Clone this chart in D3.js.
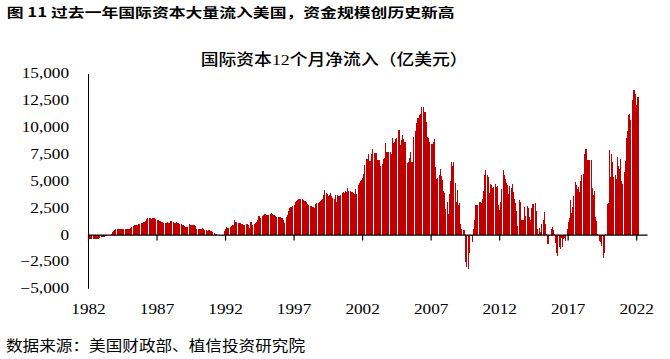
<!DOCTYPE html>
<html><head><meta charset="utf-8">
<script src="https://cdn.jsdelivr.net/npm/d3@7"></script>
<style>body{margin:0;background:#fff}svg{display:block}</style>
</head><body>
<svg id="c" width="670" height="359"></svg>
<script>
// Monthly 12-month net international capital inflows (100 million USD), Jan 1982 onward
const startYear = 1982;
const values1980s = [
  -400,-420,-400,-380,-400,-400,-380,-400,-390,-400,-300,-250,
  -250,-230,-200,-150,-100,-80,-50,-30,100,200,350,450,
  500,480,500,500,500,500,480,500,500,500,500,500,
  550,650,700,800,850,850,880,900,950,1000,1050,1100,
  1150,1200,1300,1450,1550,1500,1500,1450,1500,1550,1500,1450,
  1400,1350,1300,1250,1200,1150,1100,1100,1100,1150,1100,1100,
  1250,1250,1200,1100,1050,1200,1100,1050,1000,950,900,850,
  800,750,700,700,950,850,850,850,900,850,800,500
];
const values1990s = [
  500,500,500,500,650,500,400,400,350,450,400,350,
  300,200,150,100,30,0,0,0,-50,-100,-50,300,
  500,700,600,650,700,800,850,900,1350,1150,1150,1100,
  1100,1050,1000,950,900,850,950,1000,900,600,1150,1150,
  900,950,1050,1200,1400,1700,1750,1500,1700,1850,1950,1900,
  1850,1800,1850,1900,2050,1950,1850,1800,1700,1650,1650,1600,
  1600,1550,1500,1350,1050,1600,1800,2200,2450,2600,2600,2700,
  2800,3000,3100,3200,3300,3350,3350,3300,3250,3150,3100,3050,
  2850,2750,2650,2700,2600,2550,2500,2850,2900,2950,3000,3100,
  3200,3300,3700,4150,3900,3800,3600,3650,3850,3600,3400,3350
];
const values2000s = [
  3650,3050,3650,3550,3600,3650,3900,3950,3900,4050,4000,4300,
  4100,4050,4000,3950,3850,3800,4250,3800,4600,4800,5000,5100,
  5300,5650,6500,7000,7050,7500,6850,6850,7550,7950,7600,7600,
  7600,6950,6950,6950,6350,6600,7000,7100,8500,7700,7700,7700,
  7700,7500,8950,8500,8600,8900,8950,9700,9750,8350,8800,9250,
  8900,8650,8650,6700,6800,7100,7700,6750,6750,9100,9600,10400,
  10850,10850,11150,11250,11850,11850,11400,11400,10500,9100,9000,8650,
  8450,8450,8600,8900,6250,5200,5300,5550,6100,5500,5100,4050,
  3850,2400,3050,1950,3800,5000,6750,6350,6750,4850,3000,4150,
  2800,2900,950,500,420,420,-2550,-3000,-100,-3200,-1700,-100
];
const values2010s = [
  -650,480,1350,2750,2750,2750,3000,3000,2900,3350,4050,5550,
  6000,5550,5350,3900,4700,4600,4300,4400,4750,4450,4550,2750,
  2300,3000,4200,6000,5550,5200,4800,4600,3800,4500,4350,4700,
  3950,3300,2950,2200,800,3200,3050,1350,1350,1350,2550,1750,
  2650,2450,1650,1350,2450,2850,2850,2950,2200,550,50,600,
  250,1000,1350,2100,1000,50,-900,-900,-100,500,700,400,
  50,-750,-1700,-2000,-1150,-1300,-350,-1150,-450,-350,-550,500,
  1150,1500,3200,2000,2600,3600,4900,4600,4200,4400,3950,4950,
  5550,5650,7500,7950,8000,6950,6950,6950,6950,4350,3700,4050,
  1650,1300,50,-600,-700,-1050,-50,-2150,-1700,100,2850,2900
];
const values2020s = [
  7900,5400,7500,6750,5400,5550,5200,7200,6350,6100,7000,4950,
  4700,5850,6850,8950,9600,11150,11250,10700,12550,13500,13500,13100,
  12100,12850,12800
];
const xTickLabels = ["1982","1987","1992","1997","2002","2007","2012","2017","2022"];
const yTickValues = [-5000,-2500,0,2500,5000,7500,10000,12500,15000];
const titleText = "图 11 过去一年国际资本大量流入美国，资金规模创历史新高";
const chartTitle = "国际资本12个月净流入（亿美元）";
const sourceText = "数据来源：美国财政部、植信投资研究院";

const values = [].concat(values1980s, values1990s, values2000s, values2010s, values2020s);
const months = values.map((v, i) => ({i, v}));

const svg = d3.select("#c");
const step = (636.2 - 88) / 480;
const x = d3.scaleLinear().domain([0, 489.5]).range([88, 88 + 489.5 * step]);
const y = d3.scaleLinear().domain([-5000, 15000]).range([288.3, 73.5]);

// bars
svg.append("g").selectAll("rect").data(months).join("rect")
  .attr("x", d => x(d.i))
  .attr("width", 1)
  .attr("y", d => y(Math.max(0, d.v)))
  .attr("height", d => Math.abs(y(d.v) - y(0)))
  .attr("fill", "#C00000")
  .attr("shape-rendering", "crispEdges");

const tickIdx = xTickLabels.map(l => (+l - startYear) * 12);
const numFont = "'Liberation Serif','Times New Roman',serif";
const sx = 1.23;

// y axis
const gy = svg.append("g").attr("transform", "translate(88,0)")
  .call(d3.axisLeft(y).tickValues(yTickValues).tickSize(0).tickSizeOuter(0).tickPadding(19).tickFormat(d3.format(",")));
gy.select(".domain").attr("stroke", "#000").attr("stroke-width", 1);
gy.selectAll("text").attr("font-family", numFont).attr("font-size", 14).attr("fill", "#000")
  .attr("x", -19 / sx).attr("transform", `scale(${sx},1)`);

// zero line with ticks
const gx = svg.append("g").attr("transform", `translate(0,${y(0)})`)
  .call(d3.axisBottom(x).tickValues(tickIdx).tickSize(6).tickSizeOuter(0).tickFormat(""));
gx.select(".domain").attr("stroke", "#000").attr("stroke-width", 1.2);
gx.selectAll(".tick line").attr("stroke", "#000").attr("stroke-width", 1.2);

// bottom labels
const gl = svg.append("g").attr("transform", `translate(0,${y(-5000)})`)
  .call(d3.axisBottom(x).tickValues(tickIdx).tickSize(0).tickSizeOuter(0).tickPadding(16)
    .tickFormat((d, k) => xTickLabels[k]));
gl.select(".domain").remove();
gl.selectAll("text").attr("font-family", numFont).attr("font-size", 14).attr("fill", "#000")
  .attr("transform", `scale(${sx},1)`)
  .each(function() { const t = d3.select(this.parentNode).attr("transform"); });
// adjust scaled labels to stay centered on their ticks
gl.selectAll(".tick").each(function() {
  d3.select(this).select("text").attr("x", 0).attr("transform", `scale(${sx},1)`);
});

// texts
const cjk = "'Noto Sans CJK SC','Noto Sans',sans-serif";
svg.append("text").text(titleText)
  .attr("x", 6.7).attr("y", 16.6).attr("font-family", cjk).attr("font-weight", "bold")
  .attr("font-size", 12.6).attr("fill", "#000")
  .attr("textLength", 448).attr("lengthAdjust", "spacingAndGlyphs");

svg.append("text").text(chartTitle)
  .attr("x", 200.7).attr("y", 64.5).attr("font-family", "'Liberation Serif'," + cjk).attr("font-weight", 500)
  .attr("font-size", 15.5).attr("fill", "#000")
  .attr("textLength", 267).attr("lengthAdjust", "spacingAndGlyphs");

svg.append("text").text(sourceText)
  .attr("x", 6).attr("y", 351.2).attr("font-family", cjk)
  .attr("font-size", 14.5).attr("fill", "#000")
  .attr("textLength", 299).attr("lengthAdjust", "spacingAndGlyphs");
</script>
</body></html>
